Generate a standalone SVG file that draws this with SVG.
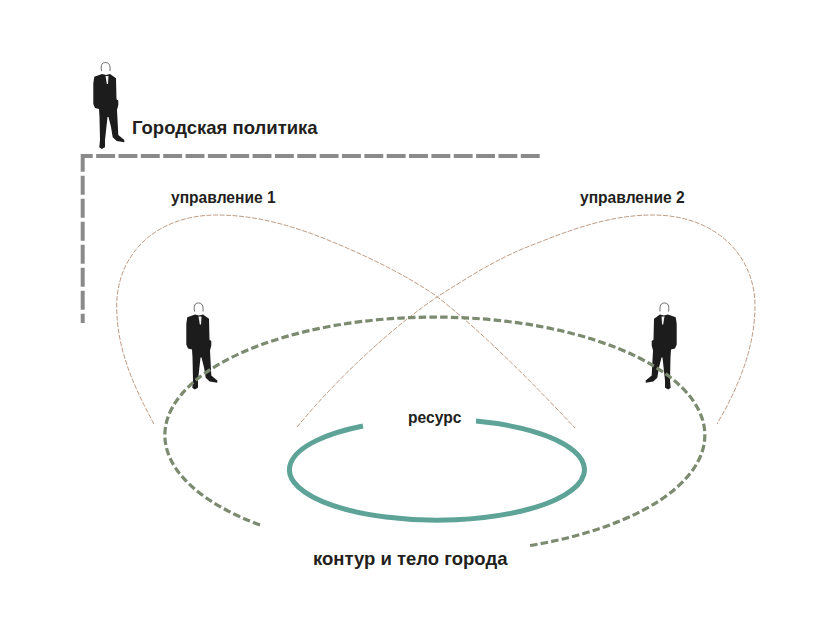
<svg xmlns="http://www.w3.org/2000/svg" width="824" height="636" viewBox="0 0 824 636">
<style>
text{font-family:"Liberation Sans",Arial,sans-serif;font-weight:700;fill:#231f20}
.lg{font-size:18.500px}.md{font-size:15.600px}
.thin{fill:none;stroke:#c09c84;stroke-width:1;stroke-dasharray:5 1.500}
.grey{fill:none;stroke:#8a8a8a;stroke-width:4}
</style>
<defs>
<g id="man">
<path d="M101.500,71 C100.500,65 102,62.500 105.500,62.500 C109,62.500 110.500,65 110,71" fill="none" stroke="#444" stroke-width=".8"/>
<path d="M102,74 L94.300,76.700 L93.300,83.300 L93.300,104 L95,108 L99,109 L99.500,117 L100,140 L99.300,147.300 L101.700,149 L105,147.300 L105,140 L107.500,117 L108.500,117 L111,127 L112.700,137.300 L116.700,141 L124.300,142.300 L124.300,140 L118.300,135 L117,110 L118.300,105 L118.300,100.500 L116.500,99.300 L116,78.300 L110,74 L106,75 Z" fill="#1c1c1c"/>
<path d="M105.500,76 L108.500,76 L108,84 L106.800,84 Z" fill="#eee"/>
</g>
</defs>
<g id="node-politics"><use href="#man"/><text class="lg" x="132" y="134">Городская политика</text></g>
<g id="node-person-1"><use href="#man" transform="translate(93,240.500)"/></g>
<g id="node-person-2"><use href="#man" transform="translate(770,240.500) scale(-1,1)"/></g>
<g id="label-1"><text class="md" x="171" y="203">управление 1</text></g>
<g id="label-2"><text class="md" x="580" y="203">управление 2</text></g>
<g id="node-resource"><text class="md" x="408" y="423">ресурс</text></g>
<g id="node-city"><text class="lg" x="313" y="565">контур и тело города</text></g>
<g id="connectors">
<path class="grey" d="M81,156H541" stroke-dasharray="18.900 3.450" stroke-dashoffset="7.200"/>
<path class="grey" d="M82.700,154V323" stroke-dasharray="19 4" stroke-dashoffset="1.300"/>
<path class="thin" d="M154,424 C130,380 116.700,345 116.700,306 C116.700,255 155,215 217,215 C260,215 300,228 340,245 C375,260 405,275 435,295 C480,330 530,380 575,428"/>
<path class="thin" d="M297,427 C340,375 395,325 440,295 C480,270 500,257 540,242 C580,226 615,215 653,215 C715,215 755,255 755,306 C755,345 740,385 717,424"/>
<path d="M260,525 A270,118 0 1 1 527,546" fill="none" stroke="#7c8a70" stroke-width="3.200" stroke-dasharray="7.500 3.200"/>
<path d="M363,426 A147.500,50.500 0 1 0 476,421" fill="none" stroke="#5ea398" stroke-width="5"/>
</g>
</svg>
